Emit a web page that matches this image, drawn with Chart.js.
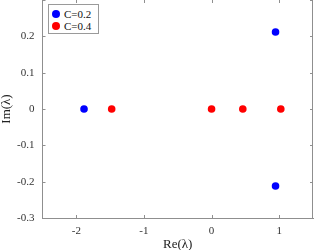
<!DOCTYPE html>
<html><head><meta charset="utf-8">
<script src="https://cdn.jsdelivr.net/npm/chart.js@4"></script>
<style>
html,body{margin:0;padding:0;background:#fff;}
#wrap{position:relative;width:314px;height:250px;}
#legend{position:absolute;left:48px;top:4px;width:49px;height:28px;border:1px solid #9a9a9a;background:#fff;font-family:"Liberation Serif",serif;font-size:11px;color:#111;}
.it{position:absolute;left:3px;height:12px;line-height:12px;white-space:nowrap;}
.mk{display:inline-block;width:8px;height:8px;border-radius:50%;vertical-align:middle;margin-right:4px;position:relative;top:-1px;}
</style></head>
<body><div id="wrap"><canvas id="c" width="314" height="250"></canvas>
<div id="legend"></div></div>
<script>
const seriesNames = ["C=0.2", "C=0.4"];
const seriesColors = ["#0000ff", "#ff0000"];
const reC02 = [-1.886, 0.946, 0.946];
const imC02 = [0, 0.212, -0.212];
const reC04 = [-1.477, 0, 0.462, 1.024];
const imC04 = [0, 0, 0, 0];
const xTicks = [-2, -1, 0, 1];
const yTicks = [-0.3, -0.2, -0.1, 0, 0.1, 0.2, 0.3];

const pts = (re, im) => re.map((v, i) => ({x: v, y: im[i]}));
const axisColor = '#8f8f8f';
const serif = '"Liberation Serif", "Times New Roman", serif';

const boxPlugin = {
  id: 'box',
  afterDraw(chart) {
    const {ctx, chartArea: a, scales: {x, y}} = chart;
    ctx.save();
    ctx.strokeStyle = axisColor;
    ctx.lineWidth = 1;
    ctx.beginPath();
    ctx.moveTo(a.right - 0.5, a.top); ctx.lineTo(a.right - 0.5, a.bottom);
    xTicks.forEach(t => {
      const px = Math.round(x.getPixelForValue(t)) + 0.5;
      ctx.moveTo(px, a.bottom); ctx.lineTo(px, a.bottom - 3);
      ctx.moveTo(px, a.top); ctx.lineTo(px, a.top + 3);
    });
    yTicks.forEach(t => {
      const py = Math.round(y.getPixelForValue(t)) + 0.5;
      ctx.moveTo(a.left, py); ctx.lineTo(a.left + 3, py);
      ctx.moveTo(a.right, py); ctx.lineTo(a.right - 3, py);
    });
    ctx.stroke();
    ctx.restore();
  }
};

new Chart(document.getElementById('c'), {
  type: 'scatter',
  data: {
    datasets: [
      {label: seriesNames[0], data: pts(reC02, imC02), backgroundColor: seriesColors[0], borderWidth: 0, pointRadius: 3.8, pointHoverRadius: 3.8},
      {label: seriesNames[1], data: pts(reC04, imC04), backgroundColor: seriesColors[1], borderWidth: 0, pointRadius: 3.8, pointHoverRadius: 3.8}
    ]
  },
  options: {
    responsive: false,
    animation: false,
    events: [],
    layout: {autoPadding: false, padding: {top: 0, right: 1, left: 0, bottom: 0}},
    plugins: {legend: {display: false}, tooltip: {enabled: false}},
    scales: {
      x: {
        type: 'linear', min: -2.5, max: 1.5,
        afterBuildTicks: s => { s.ticks = xTicks.map(v => ({value: v})); },
        grid: {display: false, drawTicks: false},
        border: {display: true, color: axisColor, width: 1},
        ticks: {color: '#333', font: {family: serif, size: 11}, padding: 7, maxRotation: 0},
        title: {display: true, text: 'Re(λ)', color: '#222', font: {family: serif, size: 13, lineHeight: 1}, padding: {top: 0, bottom: -1}},
        afterFit: s => { s.height = 32; s.paddingLeft = 0; s.paddingRight = 0; }
      },
      y: {
        type: 'linear', min: -0.3, max: 0.3,
        afterBuildTicks: s => { s.ticks = yTicks.map(v => ({value: v})); },
        grid: {display: false, drawTicks: false},
        border: {display: true, color: axisColor, width: 1},
        ticks: {color: '#333', font: {family: serif, size: 11}, padding: 8,
          callback: v => (Math.abs(v - 0.3) < 1e-9 ? '' : String(Math.round(v * 10) / 10))},
        title: {display: true, text: 'Im(λ)', color: '#222', font: {family: serif, size: 13, lineHeight: 1}, padding: {top: 0, bottom: 0}},
        afterFit: s => { s.width = 42.5; s.paddingTop = 0; s.paddingBottom = 0; }
      }
    }
  },
  plugins: [boxPlugin]
});

const lg = document.getElementById('legend');
seriesNames.forEach((n, i) => {
  const d = document.createElement('div');
  d.className = 'it';
  d.style.top = (3 + i * 12) + 'px';
  const m = document.createElement('span');
  m.className = 'mk'; m.style.background = seriesColors[i];
  d.appendChild(m);
  d.appendChild(document.createTextNode(n));
  lg.appendChild(d);
});
</script></body></html>
